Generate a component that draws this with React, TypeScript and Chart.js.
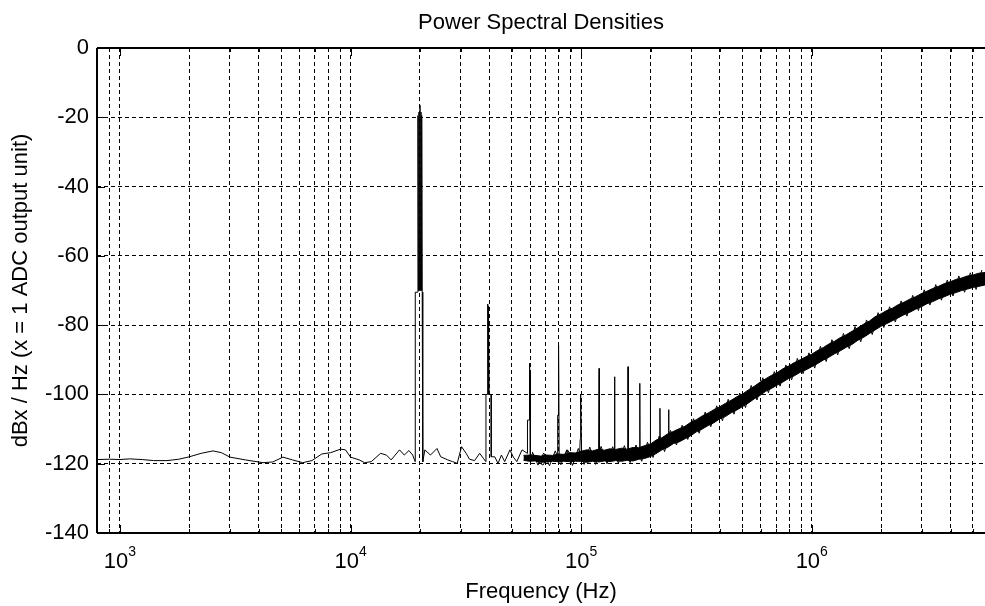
import React, { useEffect, useRef } from 'react';
import { Chart, registerables } from 'chart.js';

Chart.register(...registerables);

const FONT = "'Liberation Sans', Arial, Helvetica, sans-serif";

// ---- axes / ticks ----
const xMin = 795;
const xMax = 5640000;
const yMin = -140;
const yMax = 0;
const yTickValues = [-140, -120, -100, -80, -60, -40, -20, 0];
const xGridValues = [
  900, 1000, 2000, 3000, 4000, 5000, 6000, 7000, 8000, 9000,
  10000, 20000, 30000, 40000, 50000, 60000, 70000, 80000, 90000,
  100000, 200000, 300000, 400000, 500000, 600000, 700000, 800000, 900000,
  1000000, 2000000, 3000000, 4000000, 5000000,
];
const xMajorValues = [1000, 10000, 100000, 1000000];
const xMajorExponents = ['3', '4', '5', '6'];

const titleText = 'Power Spectral Densities';
const xTitle = 'Frequency (Hz)';
const yTitle = 'dBx / Hz (x = 1 ADC output unit)';

// ---- thin PSD trace (low frequencies + first harmonics) ----
const floorFreqs = [
  800, 900, 1000, 1100, 1250, 1400, 1600, 1800, 2000, 2250, 2530, 2750, 3000, 3500,
  4170, 4600, 5090, 5600, 6200, 6800, 7500, 8200, 9050, 9500, 10000, 10900, 11500,
  12300, 13500, 14300, 15000, 16300, 17100, 17900, 18600, 19050,
  19080, 19550, 19600, 19700, 19800, 19900, 20000, 20100, 20200, 20300, 20350, 20450, 20550, 20580,
  21000, 22200, 23700, 24600, 26400, 27700, 29000, 30300, 31700, 32800, 34500, 36300, 37800, 38600,
  38650, 39250, 39300, 39400, 39450, 39500, 39550, 39600, 39650, 39700, 39750, 39800, 39900, 40700, 40750,
  42200, 43600, 45100, 46600, 49100, 50800, 52600, 55400, 58400,
  58500, 59500, 59600, 59800, 59900, 60000, 60100, 60200, 60300,
  61600, 64800, 68300, 71900, 75700, 78400, 79000,
  79100, 79600, 79700, 79800, 79900, 80300,
  83000, 87200, 90200, 94800, 98500, 99000, 99300, 99500, 99700, 100500,
];
const floorDb = [
  -118.8, -118.7, -118.8, -118.6, -118.8, -119.1, -119.1, -118.7, -118.0, -117.0, -116.3, -116.8, -118.1, -118.9,
  -119.7, -119.5, -118.1, -118.9, -119.7, -119.1, -117.2, -116.8, -115.8, -116.0, -118.1, -118.9, -119.7,
  -119.4, -117.0, -117.5, -118.9, -116.0, -117.5, -116.2, -117.5, -119.4,
  -70.5, -70.5, -19.5, -70, -18.5, -70, -16.5, -70, -18.5, -70, -19.5, -70.5, -70.5, -119.5,
  -116.0, -117.5, -115.6, -118.0, -118.9, -119.4, -119.9, -115.1, -117.0, -118.7, -119.1, -117.0, -118.6, -119.4,
  -100, -100, -75, -73.9, -100, -74.5, -100, -75.5, -100, -76, -100, -76.5, -100, -100, -118.0,
  -118.0, -119.9, -117.5, -119.4, -116.0, -118.1, -119.4, -116.0, -117.0,
  -107.4, -107.4, -93, -91, -107, -93, -107, -108, -118,
  -117.0, -119.4, -120.4, -118.0, -118.9, -117.5, -118.5,
  -106, -106, -85.8, -106, -86.5, -118.5,
  -118.9, -116.0, -117.5, -117.0, -117.5, -113, -100.2, -113, -101, -117.5,
];

// ---- dense noise band (upper / lower envelope) ----
const bandFreqs = [
  56200, 59600, 63100, 66800, 70800, 75000, 79400, 84100, 89100, 94400,
  100000, 106000, 112000, 119000, 126000, 133000, 141000, 150000, 158000, 168000, 178000, 188000,
  200000, 211000, 224000, 237000, 251000, 266000, 282000, 299000, 316000, 335000, 355000, 376000,
  398000, 422000, 447000, 473000, 501000, 531000, 562000, 596000, 631000, 668000, 708000, 750000,
  794000, 841000, 891000, 944000, 1000000, 1060000, 1120000, 1190000, 1260000, 1330000, 1410000,
  1500000, 1580000, 1680000, 1780000, 1880000, 2000000, 2110000, 2240000, 2370000, 2510000,
  2660000, 2820000, 2990000, 3160000, 3350000, 3550000, 3760000, 3980000, 4220000, 4470000,
  4730000, 5010000, 5310000, 5640000,
];
const bandUpperDb = [
  -117.6, -117.5, -117.6, -117.8, -117.5, -117.6, -117.2, -117.3, -116.8, -116.9,
  -116.4, -116.0, -116.3, -115.8, -116.1, -115.7, -115.9, -115.5, -115.8, -115.3, -115.4, -114.8,
  -114.3, -113.2, -112.5, -111.4, -110.7, -109.9, -109.2, -108.0, -107.3, -106.2, -105.4, -104.4,
  -103.6, -102.6, -101.7, -100.7, -99.9, -98.7, -97.7, -96.5, -95.5, -94.5, -93.7, -92.6,
  -91.8, -90.8, -90.0, -89.1, -88.4, -87.3, -86.5, -85.4, -84.6, -83.6, -82.8,
  -81.7, -80.8, -79.7, -78.8, -77.6, -76.7, -75.8, -75.1, -74.1, -73.4,
  -72.5, -71.8, -70.9, -70.2, -69.4, -68.8, -68.0, -67.5, -66.8, -66.4,
  -65.8, -65.5, -65.0, -64.8,
];
const bandLowerDb = [
  -119.0, -119.3, -119.2, -119.6, -119.5, -119.3, -119.4, -119.3, -119.4, -119.3,
  -119.3, -119.6, -119.3, -119.5, -119.2, -119.4, -119.1, -119.3, -119.0, -119.2, -118.7, -118.5,
  -117.9, -117.1, -116.0, -115.3, -114.2, -113.7, -112.8, -111.9, -110.8, -110.0, -109.0, -108.2,
  -107.1, -106.4, -105.3, -104.5, -103.5, -102.5, -101.3, -100.3, -99.1, -98.3, -97.3, -96.4,
  -95.4, -94.6, -93.6, -92.9, -92.0, -91.1, -90.1, -89.2, -88.2, -87.4, -86.4,
  -85.5, -84.4, -83.5, -82.4, -81.4, -80.3, -79.6, -78.7, -77.9, -77.0,
  -76.3, -75.4, -74.7, -73.8, -73.2, -72.4, -71.8, -71.1, -70.6, -70.0,
  -69.6, -69.1, -68.8, -68.4,
];

// ---- ragged noise excursions poking out of the band ----
const fuzzFreqs = [
  61400, 65000, 68800, 72900, 77200, 81700, 86600, 91700, 97200,
  103000, 109000, 115500, 122000, 129500, 137000, 145000, 154000, 163000, 173000, 183000, 194000,
  205000, 218000, 230000, 244000, 259000, 274000, 290000, 307000, 325000, 345000, 365000, 387000,
  410000, 434000, 460000, 487000, 516000, 546000, 579000, 613000, 649000, 688000, 729000, 772000,
  818000, 866000, 917000, 972000, 1030000, 1090000, 1155000, 1223000, 1296000, 1372000, 1454000,
  1540000, 1631000, 1728000, 1830000, 1939000, 2054000, 2175000, 2304000, 2441000, 2586000,
  2739000, 2901000, 3073000, 3255000, 3448000, 3652000, 3869000, 4098000, 4341000, 4599000,
  4871000, 5160000, 5466000,
];
const fuzzDb = [
  -116.6, -120.4, -116.9, -120.6, -116.3, -120.3, -116.0, -120.5, -115.6,
  -120.2, -115.2, -120.2, -115.0, -120.0, -115.1, -119.9, -114.8, -119.7, -114.6, -119.3, -113.8,
  -118.2, -112.0, -116.5, -110.4, -114.6, -108.9, -113.0, -107.0, -111.2, -105.1, -109.3, -103.3,
  -107.6, -101.4, -105.7, -99.6, -103.8, -97.4, -101.6, -95.2, -99.5, -93.4, -97.6, -91.5,
  -95.8, -89.6, -94.0, -88.0, -92.4, -86.1, -90.5, -84.2, -88.6, -82.4, -86.8,
  -80.4, -84.8, -78.5, -82.7, -76.4, -80.7, -74.7, -79.1, -73.0, -77.4,
  -71.4, -75.8, -69.8, -74.2, -68.3, -72.8, -67.0, -71.6, -65.8, -70.5,
  -64.9, -69.7, -64.1,
];

// ---- higher harmonic spikes (null = gap) ----
const spikeFreqs = [
  119000, 119600, 120000, 130000,
  139000, 139600, 140000, 150000,
  159000, 159500, 159700, 160000, 160200, 170000,
  179000, 179600, 180000, 190000,
  199000, 199600, 200000, 210000,
  219000, 219600, 220000, 230000,
  239000, 239600, 240000,
];
const spikeDb = [
  -117.5, -92.5, -116, null,
  -117, -94.9, -116, null,
  -117, -108, -92.0, -100, -116, null,
  -116.5, -96.8, -116, null,
  -115.5, -98.5, -115, null,
  -114, -104, -113.5, null,
  -112.5, -104.4, -112,
];

const toPoints = (xs: number[], ys: (number | null)[]) => xs.map((x, i) => ({ x, y: ys[i] }));

const matlabAxesPlugin = {
  id: 'matlabAxes',
  afterDatasetsDraw(chart: any) {
    const { ctx, chartArea: a, scales } = chart;
    const x = scales.x;
    const y = scales.y;
    ctx.save();
    ctx.setLineDash([]);
    ctx.strokeStyle = '#000';
    // frame
    ctx.lineWidth = 2;
    ctx.beginPath();
    ctx.moveTo(a.left, a.top);
    ctx.lineTo(a.right, a.top);
    ctx.moveTo(a.left, a.bottom);
    ctx.lineTo(a.right, a.bottom);
    ctx.moveTo(a.left, a.top);
    ctx.lineTo(a.left, a.bottom);
    ctx.stroke();
    // ticks
    ctx.lineWidth = 1;
    ctx.beginPath();
    xMajorValues.forEach((v) => {
      const px = Math.round(x.getPixelForValue(v)) + 0.5;
      ctx.moveTo(px, a.bottom);
      ctx.lineTo(px, a.bottom - 8);
      ctx.moveTo(px, a.top);
      ctx.lineTo(px, a.top + 8);
    });
    xGridValues.forEach((v) => {
      const px = Math.round(x.getPixelForValue(v)) + 0.5;
      ctx.moveTo(px, a.bottom);
      ctx.lineTo(px, a.bottom - 4);
      ctx.moveTo(px, a.top);
      ctx.lineTo(px, a.top + 4);
    });
    yTickValues.forEach((v) => {
      const py = Math.round(y.getPixelForValue(v)) + 0.5;
      ctx.moveTo(a.left, py);
      ctx.lineTo(a.left + 8, py);
    });
    ctx.stroke();
    ctx.fillStyle = '#000';
    // title, centred over the plot area
    ctx.font = `22px ${FONT}`;
    ctx.textAlign = 'center';
    ctx.textBaseline = 'alphabetic';
    ctx.fillText(titleText, (a.left + a.right) / 2, a.top - 19);
    // x tick labels with superscripts
    ctx.textAlign = 'left';
    xMajorValues.forEach((v, i) => {
      const px = x.getPixelForValue(v);
      ctx.font = `22px ${FONT}`;
      const w1 = ctx.measureText('10').width;
      ctx.font = `14px ${FONT}`;
      const w2 = ctx.measureText(xMajorExponents[i]).width;
      const start = px - (w1 + w2) / 2;
      ctx.font = `22px ${FONT}`;
      ctx.fillText('10', start, a.bottom + 35);
      ctx.font = `14px ${FONT}`;
      ctx.fillText(xMajorExponents[i], start + w1, a.bottom + 23);
    });
    // x title
    ctx.font = `22px ${FONT}`;
    ctx.textAlign = 'center';
    ctx.fillText(xTitle, (a.left + a.right) / 2, a.bottom + 65);
    ctx.restore();
  },
};

export default function App() {
  const canvasRef = useRef<HTMLCanvasElement | null>(null);

  useEffect(() => {
    if (!canvasRef.current) return;
    Chart.defaults.font.family = FONT;
    const gridCommon = { color: '#000', lineWidth: 1, drawTicks: false };
    const lineCommon = { borderColor: '#000', borderWidth: 1, pointRadius: 0, fill: false };
    const chart = new Chart(canvasRef.current, {
      type: 'line',
      data: {
        datasets: [
          { ...lineCommon, data: toPoints(bandFreqs, bandUpperDb), backgroundColor: '#000' },
          { ...lineCommon, data: toPoints(bandFreqs, bandLowerDb), backgroundColor: '#000', fill: '-1' },
          { ...lineCommon, data: toPoints(fuzzFreqs, fuzzDb) },
          { ...lineCommon, data: toPoints(floorFreqs, floorDb) },
          { ...lineCommon, data: toPoints(spikeFreqs, spikeDb), spanGaps: false },
        ],
      },
      options: {
        animation: false,
        responsive: false,
        maintainAspectRatio: false,
        layout: { padding: { top: 48, left: 0, right: 0, bottom: 0 } },
        plugins: {
          legend: { display: false },
          tooltip: { enabled: false },
          title: { display: false },
        },
        scales: {
          x: {
            type: 'logarithmic',
            min: xMin,
            max: xMax,
            afterBuildTicks: (s: any) => {
              s.ticks = xGridValues.map((v) => ({ value: v }));
            },
            afterFit: (s: any) => {
              s.height = 73;
            },
            ticks: { display: false },
            grid: gridCommon,
            border: { display: false, dash: [4, 3] },
          },
          y: {
            type: 'linear',
            min: yMin,
            max: yMax,
            afterBuildTicks: (s: any) => {
              s.ticks = yTickValues.map((v) => ({ value: v }));
            },
            afterFit: (s: any) => {
              s.width = 97;
            },
            ticks: {
              color: '#000',
              font: { family: FONT, size: 22 },
              padding: 8,
              autoSkip: false,
              callback: (v: any) => String(v),
            },
            grid: gridCommon,
            border: { display: false, dash: [4, 3] },
            title: {
              display: true,
              text: yTitle,
              color: '#000',
              font: { family: FONT, size: 22, lineHeight: 1.2 },
              padding: { top: 7.4, bottom: 0 },
            },
          },
        },
      },
      plugins: [matlabAxesPlugin],
    } as any);
    return () => chart.destroy();
  }, []);

  return (
    <div style={{ position: 'fixed', left: 0, top: 0, width: 985, height: 606, background: '#fff' }}>
      <canvas ref={canvasRef} width={985} height={606} style={{ display: 'block', width: 985, height: 606 }} />
    </div>
  );
}
